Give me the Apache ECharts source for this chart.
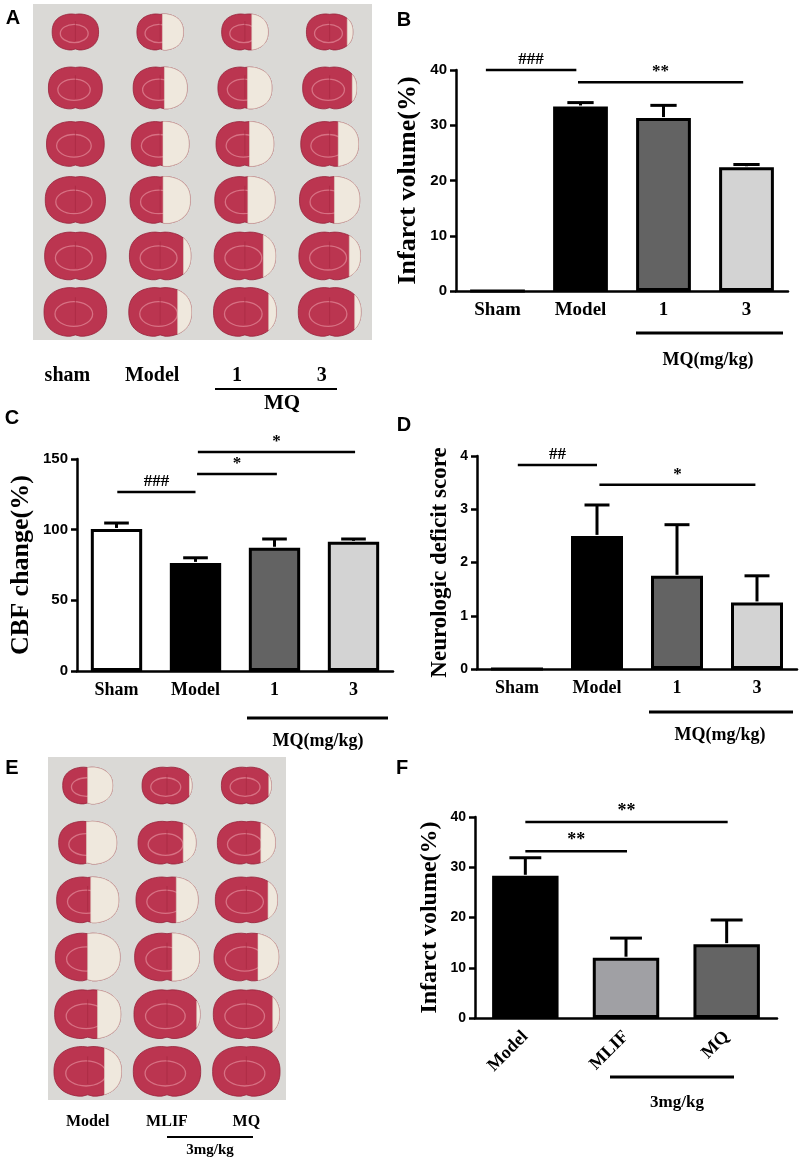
<!DOCTYPE html>
<html>
<head>
<meta charset="utf-8">
<script src="https://cdn.jsdelivr.net/npm/echarts@6/dist/echarts.min.js"></script>
<style>
html,body{margin:0;padding:0;background:#fff}
#main{width:803px;height:1162px}
</style>
</head>
<body>
<div id="main"></div>
<script>
// ---- data ----
var groupsBCD = ['Sham', 'Model', '1', '3'];
var infarctMean = [0, 33.4, 31.3, 22.4];
var infarctErr = [0, 0.7, 2.3, 0.5];
var cbfMean = [100.5, 76.5, 87.2, 91.4];
var cbfErr = [4.2, 3.6, 6.2, 2.0];
var scoreMean = [0, 2.5, 1.75, 1.25];
var scoreErr = [0, 0.58, 0.96, 0.5];
var groupsF = ['Model', 'MLIF', 'MQ'];
var infarctMeanF = [28.3, 12.0, 14.7];
var infarctErrF = [3.6, 3.9, 4.8];
var photoColsA = ['sham', 'Model', '1', '3'];
var photoColsE = ['Model', 'MLIF', 'MQ'];
// pale (infarcted) share of each slice, per column, rows top to bottom
var paleA = [
  [0, 0, 0, 0, 0, 0],
  [0.45, 0.42, 0.45, 0.45, 0.12, 0.22],
  [0.35, 0.45, 0.42, 0.45, 0.2, 0.12],
  [0.12, 0.08, 0.35, 0.42, 0.18, 0.1]
];
var paleE = [
  [0.5, 0.52, 0.45, 0.5, 0.35, 0.25],
  [0.05, 0.22, 0.35, 0.42, 0.05, 0],
  [0.05, 0.25, 0.15, 0.32, 0.1, 0]
];
// significance bars: [from, to (category units), level, mark]
var sigB = [[-0.14, 0.95, 40, '###'], [0.97, 2.96, 37.8, '**']];
var sigC = [[0.01, 1.0, 126.7, '###'], [1.02, 2.03, 139.4, '*'], [1.03, 3.02, 155, '*']];
var sigD = [[0.01, 1.0, 3.83, '##'], [1.03, 2.98, 3.46, '*']];
var sigF = [[0, 2.01, 39, '**'], [0, 1.01, 33.2, '**']];

var colorsBCD = ['#ffffff', '#000000', '#636363', '#d3d3d3'];
var colorsF = ['#000000', '#a0a0a4', '#646464'];

// ---- helpers ----
function barXAxis(gi, cats, fs, rotate, margin) {
  return {
    type: 'category', gridIndex: gi, data: cats, boundaryGap: true,
    axisLine: {lineStyle: {color: '#000', width: 2.5}},
    axisTick: {alignWithLabel: true, length: 6, lineStyle: {color: '#000', width: 2.5}},
    axisLabel: {margin: margin || 10, fontFamily: 'Liberation Serif', fontWeight: 'bold', fontSize: fs, color: '#000', rotate: rotate || 0}
  };
}
function barYAxis(gi, max, interval, name, nameSize, gap, fs) {
  return {
    type: 'value', gridIndex: gi, min: 0, max: max, interval: interval,
    name: name, nameLocation: 'middle', nameGap: gap, nameRotate: 90,
    nameTextStyle: {fontFamily: 'Liberation Serif', fontWeight: 'bold', fontSize: nameSize, color: '#000'},
    axisLine: {show: true, lineStyle: {color: '#000', width: 2.5}},
    axisTick: {show: true, length: 6, lineStyle: {color: '#000', width: 2.5}},
    splitLine: {show: false},
    axisLabel: {fontFamily: 'Liberation Sans', fontWeight: 'bold', fontSize: fs, color: '#000', margin: 9}
  };
}
function barSeries(gi, means, colors, width) {
  return {
    type: 'bar', xAxisIndex: gi, yAxisIndex: gi, barWidth: width,
    data: means.map(function (v, i) {
      return {value: v, itemStyle: {color: colors[i], borderColor: '#000', borderWidth: 3}};
    }),
    silent: true, animation: false
  };
}
// error bars, upper side only
function errSeries(gi, means, errs, barFrac) {
  return {
    type: 'custom', xAxisIndex: gi, yAxisIndex: gi, z: 3, animation: false, silent: true,
    data: means.map(function (v, i) { return [i, v + errs[i]]; }),
    renderItem: function (params, api) {
      var i = params.dataIndex, m = means[i], e = errs[i];
      if (!e) return;
      var p0 = api.coord([i, m]), p1 = api.coord([i, m + e]);
      var hw = api.size([1, 0])[0] * barFrac * 0.24;
      return {type: 'group', children: [
        {type: 'line', shape: {x1: p0[0], y1: p0[1] - 1, x2: p1[0], y2: p1[1]}, style: {stroke: '#000', lineWidth: 3}},
        {type: 'line', shape: {x1: p1[0] - hw, y1: p1[1], x2: p1[0] + hw, y2: p1[1]}, style: {stroke: '#000', lineWidth: 3}}
      ]};
    }
  };
}
function sigSeries(gi, list, fs) {
  return {
    type: 'custom', xAxisIndex: gi, yAxisIndex: gi, z: 4, animation: false, silent: true, clip: false,
    data: list.map(function (d) { return [0, d[2]]; }),
    renderItem: function (params, api) {
      var d = list[params.dataIndex];
      var p = api.coord([0, d[2]]);
      var bw = api.size([1, 0])[0];
      var x1 = p[0] + d[0] * bw, x2 = p[0] + d[1] * bw;
      return {type: 'group', children: [
        {type: 'line', shape: {x1: x1, y1: p[1], x2: x2, y2: p[1]}, style: {stroke: '#000', lineWidth: 2.5}},
        {type: 'text', x: (x1 + x2) / 2, y: p[1] - 2, style: {text: d[3], align: 'center', verticalAlign: 'bottom', font: 'bold ' + fs + 'px "Liberation Serif"', fill: '#000'}}
      ]};
    }
  };
}

// brain slice outline (rounded, slight dips top and bottom)
function slicePts(cx, cy, a, b) {
  var pts = [], n = 64;
  for (var k = 0; k < n; k++) {
    var t = k / n * Math.PI * 2;
    var c = Math.cos(t), s = Math.sin(t);
    var x = cx + a * Math.sign(c) * Math.pow(Math.abs(c), 0.8);
    var y = cy + b * Math.sign(s) * Math.pow(Math.abs(s), 0.85);
    var notch = Math.exp(-Math.pow((x - cx) / (a * 0.12), 2));
    if (s > 0) y -= b * 0.07 * notch; else y += b * 0.03 * notch;
    pts.push([x, y]);
  }
  return pts;
}
function clipRight(pts, xc) {
  var out = [];
  for (var i = 0; i < pts.length; i++) {
    var p = pts[i], q = pts[(i + 1) % pts.length];
    var pin = p[0] >= xc, qin = q[0] >= xc;
    if (pin) out.push(p);
    if (pin !== qin) {
      var t = (xc - p[0]) / (q[0] - p[0]);
      out.push([xc, p[1] + t * (q[1] - p[1])]);
    }
  }
  return out;
}
function photoSeries(gi, pale, wFrac, hFrac) {
  var rowScale = [0.74, 0.86, 0.92, 0.96, 0.98, 1];
  var data = [];
  pale.forEach(function (col, c) {
    col.forEach(function (f, r) { data.push([c, r, f]); });
  });
  return {
    type: 'custom', xAxisIndex: gi, yAxisIndex: gi, animation: false, silent: true,
    data: data,
    renderItem: function (params, api) {
      var d = data[params.dataIndex];
      var p = api.coord([d[0], d[1]]);
      var sz = api.size([1, 1]);
      var a = sz[0] * wFrac * rowScale[d[1]] / 2, b = sz[1] * hFrac * rowScale[d[1]] / 2;
      var pts = slicePts(p[0], p[1], a, b);
      var kids = [
        {type: 'polygon', shape: {points: pts}, style: {fill: '#bb3550', stroke: '#97223a', lineWidth: 0.8}},
        {type: 'ellipse', shape: {cx: p[0] - a * 0.05, cy: p[1] + b * 0.08, rx: a * 0.6, ry: b * 0.5}, style: {fill: 'none', stroke: '#e28a99', lineWidth: 1.3, opacity: 0.7}},
        {type: 'line', shape: {x1: p[0], y1: p[1] - b * 0.6, x2: p[0], y2: p[1] + b * 0.5}, style: {stroke: '#a5283f', lineWidth: 0.8, opacity: 0.8}}
      ];
      if (d[2] > 0) {
        var xc = p[0] + a - 2 * a * d[2];
        kids.push({type: 'polygon', shape: {points: clipRight(pts, xc)}, style: {fill: '#efe8dd', stroke: '#ddd3c5', lineWidth: 0.6}});
      }
      return {type: 'group', children: kids};
    }
  };
}
function photoXAxis(gi, cats, fs, margin, shift) {
  return {
    type: 'category', gridIndex: gi, data: cats, boundaryGap: true,
    axisLine: {show: false}, axisTick: {show: false},
    axisLabel: {margin: margin, formatter: '{a|{value}}',
      rich: {a: {fontFamily: 'Liberation Serif', fontWeight: 'bold', fontSize: fs, color: '#000', padding: [0, shift, 0, 0]}}}
  };
}
function photoYAxis(gi) {
  return {type: 'value', gridIndex: gi, min: -0.5, max: 5.5, inverse: true, show: false};
}

function txt(x, y, s, font) {
  return {type: 'text', x: x, y: y, style: {text: s, align: 'center', verticalAlign: 'middle', font: font, fill: '#000'}};
}
function hline(x1, x2, y, w) {
  return {type: 'line', shape: {x1: x1, y1: y, x2: x2, y2: y}, style: {stroke: '#000', lineWidth: w || 3}};
}
var letterFont = 'bold 20px "Liberation Sans"';
var groupFont = 'bold 18px "Liberation Serif"';

var chart = echarts.init(document.getElementById('main'), null, {renderer: 'canvas'});
chart.setOption({
  backgroundColor: '#fff',
  animation: false,
  grid: [
    {left: 33, right: 431, top: 4, bottom: 822, show: true, backgroundColor: '#dad9d6', borderWidth: 0},
    {left: 456, right: 15, top: 70, bottom: 871},
    {left: 77, right: 410, top: 459, bottom: 491},
    {left: 477, right: 6, top: 456, bottom: 493},
    {left: 48, right: 517, top: 757, bottom: 62, show: true, backgroundColor: '#dad9d6', borderWidth: 0},
    {left: 475, right: 26, top: 817, bottom: 144}
  ],
  xAxis: [
    photoXAxis(0, photoColsA, 20, 26, 16),
    barXAxis(1, groupsBCD, 19),
    barXAxis(2, groupsBCD, 18),
    barXAxis(3, groupsBCD, 18),
    photoXAxis(4, photoColsE, 16, 14, 0),
    barXAxis(5, groupsF, 18, 45, 16)
  ],
  yAxis: [
    photoYAxis(0),
    barYAxis(1, 40, 10, 'Infarct volume(%)', 26, 35, 15),
    barYAxis(2, 150, 50, 'CBF change(%)', 26, 43, 15),
    barYAxis(3, 4, 1, 'Neurologic deficit score', 23, 25, 14),
    photoYAxis(4),
    barYAxis(5, 40, 10, 'Infarct volume(%)', 24, 33, 14)
  ],
  series: [
    photoSeries(0, paleA, 0.74, 0.88),
    barSeries(1, infarctMean, colorsBCD, '66%'),
    errSeries(1, infarctMean, infarctErr, 0.66),
    sigSeries(1, sigB, 17),
    barSeries(2, cbfMean, colorsBCD, '65%'),
    errSeries(2, cbfMean, cbfErr, 0.65),
    sigSeries(2, sigC, 17),
    barSeries(3, scoreMean, colorsBCD, '65%'),
    errSeries(3, scoreMean, scoreErr, 0.65),
    sigSeries(3, sigD, 17),
    photoSeries(4, paleE, 0.85, 0.88),
    barSeries(5, infarctMeanF, colorsF, '66%'),
    errSeries(5, infarctMeanF, infarctErrF, 0.66),
    sigSeries(5, sigF, 18)
  ],
  graphic: [
    txt(13, 18, 'A', letterFont),
    txt(404, 20, 'B', letterFont),
    txt(12, 418, 'C', letterFont),
    txt(404, 425, 'D', letterFont),
    txt(12, 768, 'E', letterFont),
    txt(402, 768, 'F', letterFont),
    hline(215, 337, 389, 2),
    txt(282, 404, 'MQ', 'bold 21px "Liberation Serif"'),
    hline(636, 783, 333),
    txt(708, 360, 'MQ(mg/kg)', groupFont),
    hline(247, 388, 718),
    txt(318, 741, 'MQ(mg/kg)', groupFont),
    hline(649, 793, 712),
    txt(720, 735, 'MQ(mg/kg)', groupFont),
    hline(167, 253, 1137, 2),
    txt(210, 1150, '3mg/kg', 'bold 15px "Liberation Serif"'),
    hline(610, 734, 1077),
    txt(677, 1103, '3mg/kg', 'bold 17px "Liberation Serif"')
  ]
});
</script>
</body>
</html>
